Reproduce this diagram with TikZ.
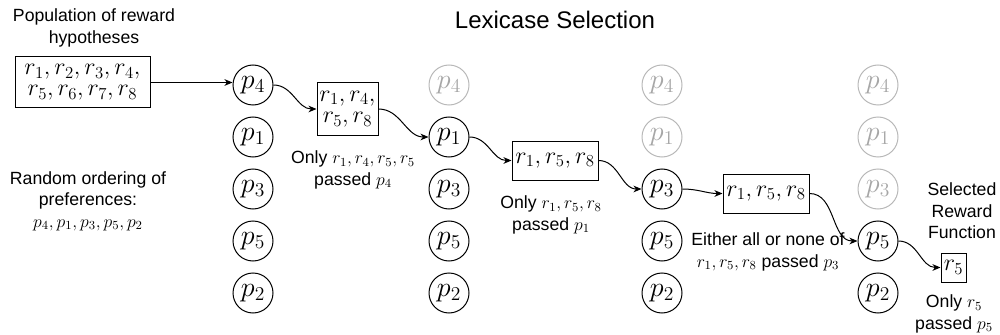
\RequirePackage{fix-cm}
\documentclass[tikz,border=0pt]{standalone}
\usepackage[no-math]{fontspec}
\setmainfont{Liberation Sans}
\usetikzlibrary{arrows.meta}

\begin{document}
\begin{tikzpicture}[x=0.75pt,y=0.75pt,yscale=-1,xscale=1,
  pref/.style={draw,circle,line width=0.75pt,minimum size=30pt,inner sep=0pt,font=\fontsize{21}{24}\selectfont},
  pgone/.style={pref,draw=black!28,text=black!35},
  rbox/.style={draw,line width=0.75pt,inner sep=1pt,align=center,font=\fontsize{18}{16}\selectfont},
  note/.style={align=center,inner sep=0pt,font=\fontsize{13.25}{16}\selectfont},
  flow/.style={line width=0.75pt,-{Stealth[length=6pt,width=5pt,inset=1.8pt]}}]
%set diagram left start at 0, and has height of 335
\path [use as bounding box] (0,0) rectangle (1000,335);

% Text Node
\node [font=\fontsize{18}{21}\selectfont,anchor=base,inner sep=0pt] (title) at (555,29) {Lexicase Selection};
% Text Node
\node [note] (poptxt) at (94,28) {Population of reward\\hypotheses};
% Text Node
\node [note] (ordtxt) at (88,201) {Random ordering of\\preferences:\\$p_4, p_1, p_3, p_5, p_2$};

% Text Node
\node [rbox,minimum width=101.25pt,minimum height=38.25pt] (pop) at (82.5,82.5) {$r_1, r_2, r_3, r_4,$\\$r_5, r_6, r_7, r_8$};
% Text Node
\node [rbox,minimum width=45.75pt,minimum height=39pt] (box2) at (347.5,109) {$r_1, r_4,$\\$r_5, r_8$};
% Text Node
\node [rbox,minimum width=64.5pt,minimum height=29.25pt] (box3) at (555,160.5) {$r_1, r_5, r_8$};
% Text Node
\node [rbox,minimum width=64.5pt,minimum height=29.25pt] (box4) at (766,193.5) {$r_1, r_5, r_8$};
% Text Node
\node [rbox,minimum width=18.75pt,minimum height=21.75pt] (box5) at (953.5,267.5) {$r_5$};

%Shape: Circle [column 1]
\node [pref] (c1p4) at (253,85) {$p_4$};
\node [pref] (c1p1) at (253,137) {$p_1$};
\node [pref] (c1p3) at (253,189) {$p_3$};
\node [pref] (c1p5) at (253,241) {$p_5$};
\node [pref] (c1p2) at (253,293) {$p_2$};
%Shape: Circle [column 2]
\node [pgone] (c2p4) at (449,85) {$p_4$};
\node [pref] (c2p1) at (449,137) {$p_1$};
\node [pref] (c2p3) at (449,189) {$p_3$};
\node [pref] (c2p5) at (449,241) {$p_5$};
\node [pref] (c2p2) at (449,293) {$p_2$};
%Shape: Circle [column 3]
\node [pgone] (c3p4) at (662,85) {$p_4$};
\node [pgone] (c3p1) at (662,137) {$p_1$};
\node [pref] (c3p3) at (662,189) {$p_3$};
\node [pref] (c3p5) at (662,241) {$p_5$};
\node [pref] (c3p2) at (662,293) {$p_2$};
%Shape: Circle [column 4]
\node [pgone] (c4p4) at (878,85) {$p_4$};
\node [pgone] (c4p1) at (878,137) {$p_1$};
\node [pgone] (c4p3) at (878,189) {$p_3$};
\node [pref] (c4p5) at (878,241) {$p_5$};
\node [pref] (c4p2) at (878,293) {$p_2$};

% Text Node
\node [note] (pass4) at (353,170) {Only $r_1, r_4, r_5, r_5$\\passed $p_4$};
% Text Node
\node [note] (pass1) at (551,215) {Only $r_1, r_5, r_8$\\passed $p_1$};
% Text Node
\node [note] (pass3) at (768,252) {Either all or none of\\$r_1, r_5, r_8$ passed $p_3$};
% Text Node
\node [note] (seltxt) at (962,211) {Selected\\Reward\\Function};
% Text Node
\node [note] (pass5) at (954,314) {Only $r_5$\\passed $p_5$};

%Straight Lines
\draw [flow] (pop.east) -- (pop.east -| c1p4.west);
%Curve Lines
\draw [flow] (c1p4.east) to[out=0,in=180] (box2.west);
\draw [flow] (box2.east) to[out=0,in=180] (c2p1.west);
\draw [flow] (c2p1.east) to[out=0,in=180] (box3.west);
\draw [flow] (box3.east) to[out=0,in=180] (c3p3.west);
\draw [flow] (c3p3.east) to[out=0,in=180] (box4.west);
\draw [flow] (box4.east) to[out=0,in=180] (c4p5.west);
\draw [flow] (c4p5.east) to[out=0,in=180] (box5.west);

\end{tikzpicture}
\end{document}
